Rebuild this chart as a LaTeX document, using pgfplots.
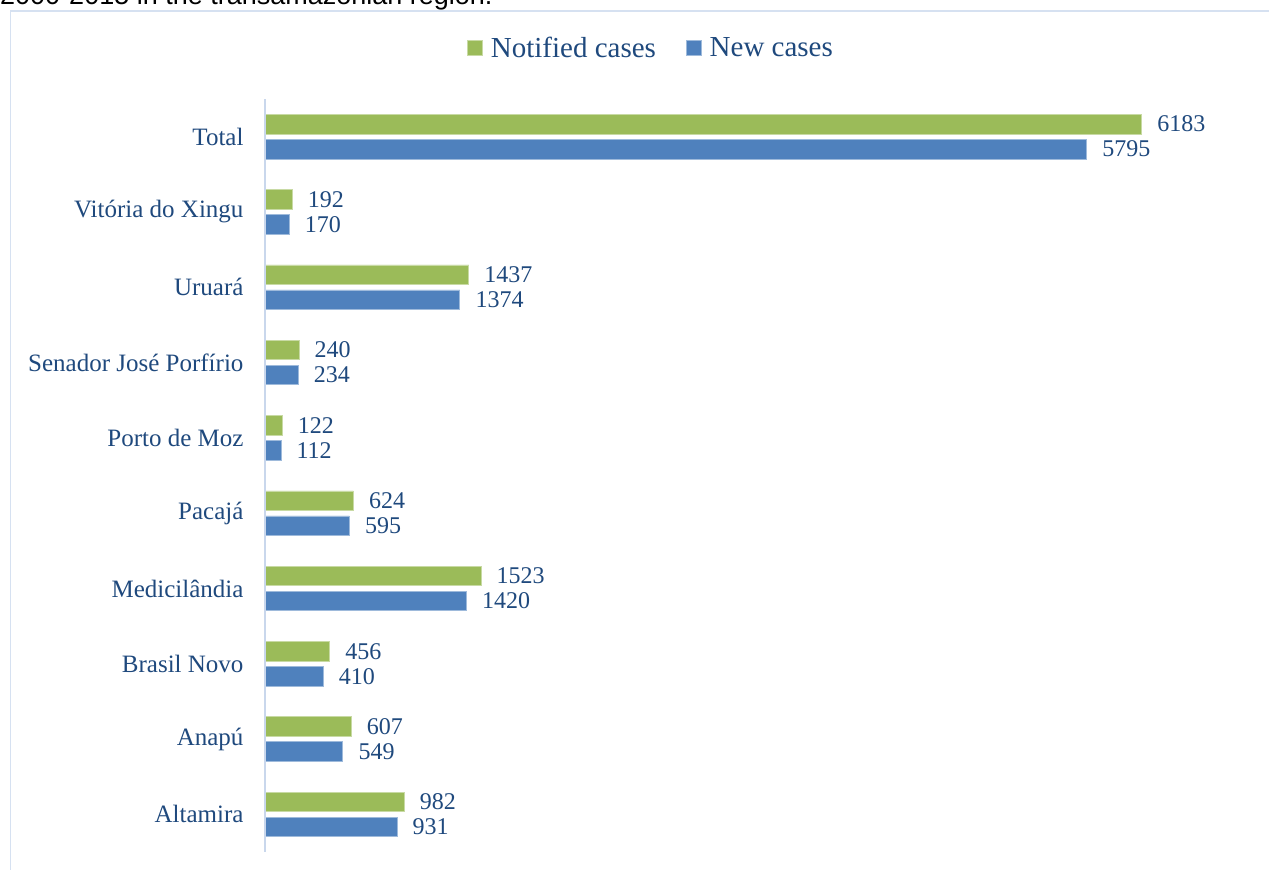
\documentclass[border=0pt]{standalone}
\usepackage{pgfplots}
\pgfplotsset{compat=1.18}
\usepackage{fontspec}
\setmainfont{Liberation Serif}
\newfontfamily\arialfont{Liberation Sans}
\definecolor{txt}{HTML}{1F497D}
\definecolor{frame}{HTML}{D6E1F1}
\definecolor{axcol}{HTML}{C9D7EC}
\definecolor{gfill}{HTML}{9BBB59}
\definecolor{bfill}{HTML}{4F81BD}
\pgfplotstableread{
idx notified new
0 982 931
1 607 549
2 456 410
3 1523 1420
4 624 595
5 122 112
6 240 234
7 1437 1374
8 192 170
9 6183 5795
}\cases
\begin{document}
\begin{tikzpicture}[x=1pt,y=1pt]
\useasboundingbox (0,0) rectangle (1269,870);
\draw[frame, line width=1.5pt] (10.5,0) -- (10.5,859) -- (1269,859);
\node[anchor=base west, inner sep=0pt, font=\arialfont\fontsize{27}{30}\selectfont] at (0,865) {2000-2015 in the transamazonian region.};
\begin{axis}[
  at={(265pt,18pt)}, anchor=south west,
  scale only axis, width=995pt, height=753pt,
  xmin=0, xmax=7017, ymin=-0.5, ymax=9.5,
  xbar, bar width=19.5pt,
  axis line style={draw=none},
  xtick=\empty,
  ytick={0,...,9},
  yticklabels={Altamira, Anapú, Brasil Novo, Medicilândia, Pacajá, Porto de Moz, Senador José Porfírio, Uruará, Vitória do Xingu, Total},
  major tick length=0pt,
  yticklabel style={color=txt, font=\fontsize{25}{30}\selectfont, xshift=-18pt},
  /pgf/number format/assume math mode=true,
  /pgf/number format/1000 sep={},
  nodes near coords,
  nodes near coords style={anchor=west, xshift=12pt, color=txt, font=\fontsize{24}{28}\selectfont},
  legend style={at={(0.388,1.068)}, anchor=center, draw=none, fill=none,
    font=\fontsize{29}{34}\selectfont, text=txt,
    /tikz/every even column/.append style={column sep=28pt}},
  legend columns=2,
  legend image code/.code={\fill[#1] (0pt,-7.5pt) rectangle (15pt,7.5pt);},
  clip=false,
]
\addplot[bar shift=12.5pt, fill=gfill, draw=gfill!55!white, line width=0.7pt] table[x=notified, y=idx]{\cases};
\addlegendentry{\hspace{6pt}Notified cases}
\addplot[bar shift=-12.5pt, fill=bfill, draw=bfill!55!white, line width=0.7pt] table[x=new, y=idx]{\cases};
\addlegendentry{\hspace{6pt}New cases}
\draw[axcol, line width=1.3pt] (axis cs:0,-0.5) -- (axis cs:0,9.5);
\end{axis}
\end{tikzpicture}
\end{document}
